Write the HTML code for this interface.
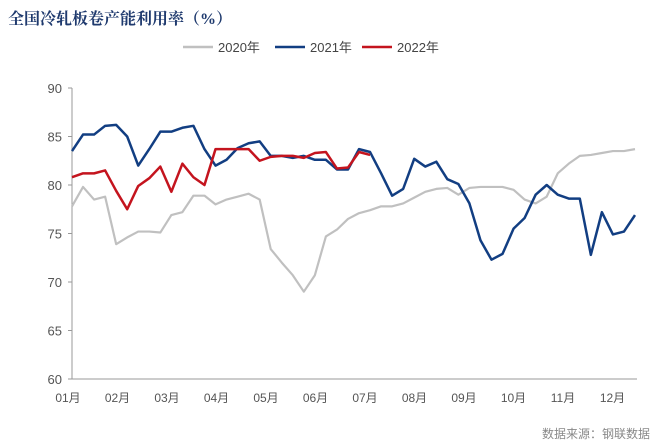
<!DOCTYPE html>
<html><head><meta charset="utf-8"><style>
body{margin:0;background:#fff;width:660px;height:448px;overflow:hidden;font-family:"Liberation Sans","Noto Sans CJK SC",sans-serif;}
#title{position:absolute;left:8px;top:6px;font-size:16px;font-weight:bold;color:#1f3a6e;font-family:"Liberation Serif","Noto Serif CJK SC",serif;}
</style></head><body>
<div id="title">全国冷轧板卷产能利用率（%）</div>
<svg id="c" width="660" height="448" style="position:absolute;left:0;top:0"></svg>
<script>
const months=["01月","02月","03月","04月","05月","06月","07月","08月","09月","10月","11月","12月"];
const yTicks=[60,65,70,75,80,85,90];
const s2020=[77.8,79.8,78.5,78.8,73.9,74.6,75.2,75.2,75.1,76.9,77.2,78.9,78.9,78.0,78.5,78.8,79.1,78.5,73.4,72.0,70.7,69.0,70.7,74.7,75.4,76.5,77.1,77.4,77.8,77.8,78.1,78.7,79.3,79.6,79.7,79.0,79.7,79.8,79.8,79.8,79.5,78.5,78.1,78.8,81.2,82.2,83.0,83.1,83.3,83.5,83.5,83.7];
const s2021=[83.5,85.2,85.2,86.1,86.2,85.0,82.0,83.7,85.5,85.5,85.9,86.1,83.7,82.0,82.6,83.8,84.3,84.5,83.0,83.0,82.8,83.0,82.6,82.6,81.6,81.6,83.7,83.4,81.2,78.9,79.6,82.7,81.9,82.4,80.6,80.1,78.1,74.3,72.3,72.9,75.5,76.6,79.0,80.0,79.0,78.6,78.6,72.8,77.2,74.9,75.2,76.9];
const s2022=[80.8,81.2,81.2,81.5,79.4,77.5,79.9,80.7,81.9,79.3,82.2,80.8,80.0,83.7,83.7,83.7,83.7,82.5,82.9,83.0,83.0,82.8,83.3,83.4,81.7,81.8,83.4,83.1];
const seriesNames=["2020年","2021年","2022年"];
const colors=["#c0c0c0","#123e82","#c4141e"];
const NS="http://www.w3.org/2000/svg";
const svg=document.getElementById('c');
const X0=72,X1=637,Y0=379,Y1=88;
const xs=i=>X0+i*(635-72)/51;
const ys=v=>Y0-(v-60)/(90-60)*(Y0-Y1);
function mk(t,a){const e=document.createElementNS(NS,t);for(const k in a)e.setAttribute(k,a[k]);svg.appendChild(e);return e;}
let ax=mk('line',{x1:X0,y1:Y1,x2:X0,y2:Y0,stroke:'#999','stroke-width':1});


let bx=mk('line',{x1:X0,y1:Y0,x2:X1,y2:Y0,stroke:'#999','stroke-width':1});


yTicks.forEach(v=>{
 let t=mk('text',{x:62,y:ys(v)+5,'text-anchor':'end','font-size':13,fill:'#555'});t.textContent=v;
 
 
 mk('line',{x1:X0-4,y1:ys(v),x2:X0,y2:ys(v),stroke:'#999'});
});
months.forEach((m,i)=>{
 const x=68+i*49.5;
 let t=mk('text',{x:x,y:402,'text-anchor':'middle','font-size':12,fill:'#555'});t.textContent=m;
 
 
});
[s2020,s2021,s2022].forEach((s,k)=>{
 let p=mk('polyline',{points:s.map((v,i)=>xs(i)+','+ys(v)).join(' '),fill:'none',stroke:colors[k],'stroke-width':k==0?2.2:2.5,'stroke-linejoin':'round'});
 
 
});
const legX=[183,275,362];
seriesNames.forEach((n,k)=>{
 let l=mk('line',{x1:legX[k],y1:47,x2:legX[k]+30,y2:47,stroke:colors[k],'stroke-width':2.5});
 
 
 let t=mk('text',{x:legX[k]+35,y:52,'font-size':13,fill:'#444'});t.textContent=n;
 
 
});
let src=mk('text',{x:650,y:438,'text-anchor':'end','font-size':12,fill:'#888'});src.textContent="数据来源：钢联数据";


</script>
</body></html>
